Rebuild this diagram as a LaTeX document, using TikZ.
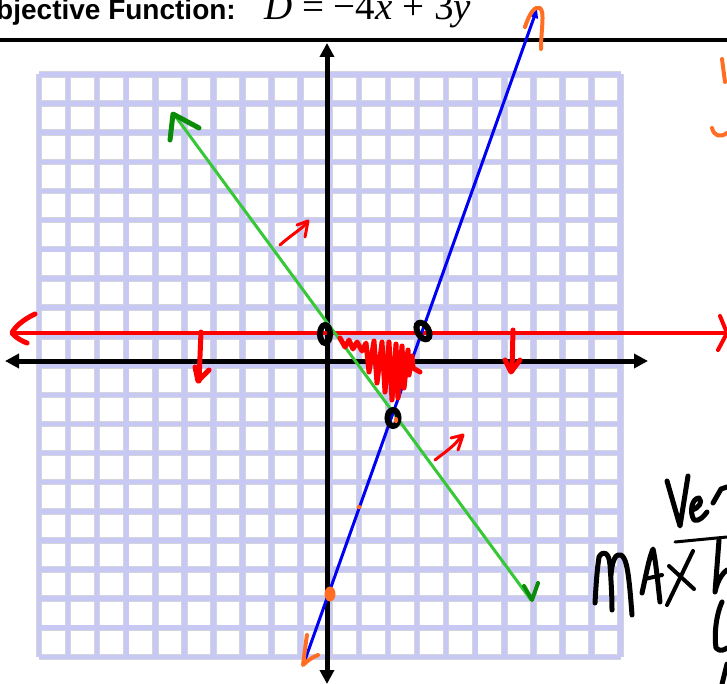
\documentclass[tikz,border=0pt]{standalone}
\usepackage{fontspec}
\setmainfont{Liberation Serif}
\newfontfamily\arialb{Liberation Sans}
\usetikzlibrary{arrows.meta}
\definecolor{gridlav}{RGB}{200,200,244}
\definecolor{gridedge}{RGB}{212,212,220}
\definecolor{hblue}{RGB}{0,0,245}
\definecolor{hgreen}{RGB}{55,200,55}
\definecolor{dgreen}{RGB}{10,140,10}
\definecolor{horange}{RGB}{255,110,35}
\definecolor{hred}{RGB}{255,0,0}
\tikzset{
  ink/.style={line width=#1, line cap=round, line join=round},
  axisline/.style={line width=5pt, black, {Triangle[length=14pt,width=14pt]}-{Triangle[length=14pt,width=14pt]}},
  ring/.style={draw=black, line width=6pt},
}
\begin{document}
\begin{tikzpicture}[x=1pt,y=-1pt]
\useasboundingbox (0,0) rectangle (727,684);
\fill[white] (0,0) rectangle (727,684);
% title
\node[anchor=base east, inner sep=0pt] (title) at (236,20) {\arialb\bfseries\fontsize{28}{28}\selectfont Objective Function:};
\node[anchor=base west, inner sep=0pt] (objf) at (264,20) {\fontsize{39}{39}\selectfont \textit{D} = −4\textit{x} + 3\textit{y}};
\coordinate (rl) at (0,40); \coordinate (rr) at (727,40);
\draw[line width=4.5pt] (rl) -- (rr);
% grid
\foreach \k in {0,...,20} {
  \draw[gridedge, line width=6.5pt] ({39+29.08*\k},74.5) -- ({39+29.08*\k},657);
  \draw[gridedge, line width=6.5pt] (39,{74.5+29.12*\k}) -- (620.6,{74.5+29.12*\k});
}
\foreach \k in {0,...,20} {
  \draw[gridlav, line width=4.6pt] ({39+29.08*\k},74.5) -- ({39+29.08*\k},657);
  \draw[gridlav, line width=4.6pt] (39,{74.5+29.12*\k}) -- (620.6,{74.5+29.12*\k});
}
% axes
\coordinate (yT) at (327,43); \coordinate (yB) at (327,684);
\coordinate (xL) at (5,361); \coordinate (xR) at (648,361);
\draw[axisline] (yB) -- (yT);
\draw[axisline] (xL) -- (xR);
% red line
\coordinate (rL) at (10,333); \coordinate (rR) at (727,333);
\draw[hred, line width=4pt] (rL) -- (rR);
\draw[hred, ink=5pt] (35,314) .. controls (22,320) and (14,328) .. (12,333) .. controls (16,338) and (22,341) .. (27,343);
\draw[hred, ink=4pt] (720,316) -- (727,333) -- (718,350);
% green line
\coordinate (gT) at (173,113); \coordinate (gB) at (531,600);
\draw[hgreen, line width=3pt] (gT) -- (gB);
\draw[dgreen, ink=5pt] (170,140) -- (173,114) -- (199,128);
\draw[dgreen, ink=4pt] (524,586) -- (532,600) -- (538,583);
% blue line
\coordinate (bB) at (305,660); \coordinate (bT) at (537,9);
\draw[hblue, line width=3pt, -{Triangle[length=9pt,width=8pt]}] (bB) -- (bT);
% orange marks
\draw[horange, ink=4pt] (525,27) .. controls (530,12) and (535,6) .. (540,8) .. controls (545,12) and (541,30) .. (541,49);
\draw[horange, ink=4pt] (307,635) .. controls (305,648) and (304,658) .. (303,665) .. controls (308,660) and (313,657) .. (318,655);
\fill[horange] (330,594) ellipse (5.5 and 7.5);
\fill[horange] (359,507) ellipse (2.5 and 2);
\draw[horange, ink=4pt] (722,59) -- (725,82);
\draw[horange, ink=4pt] (712,128) .. controls (714,136) and (720,138) .. (727,133);
% red scribble
\draw[hred, ink=5pt] (340,338) -- (345,347) -- (349,340) -- (353,349) -- (357,342) -- (362,351)
  -- (366,343) -- (369,372) -- (374,341) -- (377,383) -- (382,342) -- (385,392) -- (389,342)
  -- (392,400) -- (396,344) -- (398,398) -- (402,346) -- (404,388) -- (408,350)
  -- (409,375) -- (412,356) -- (413,368) -- (420,372);
% red small arrows
\draw[hred, ink=3pt] (280,245) .. controls (290,236) and (300,230) .. (307,223);
\draw[hred, ink=3pt] (297,225) -- (308,221) -- (305,237);
\draw[hred, ink=3pt] (435,460) .. controls (445,452) and (455,446) .. (462,435);
\draw[hred, ink=3pt] (451,438) -- (463,435) -- (458,450);
% red down arrows
\draw[hred, ink=5pt] (201,332) -- (199,381);
\draw[hred, ink=5pt] (195,367) -- (198,381) -- (209,370);
\draw[hred, ink=5pt] (513,330) -- (512,371);
\draw[hred, ink=5pt] (505,360) -- (511,372) -- (520,360);
% circles at vertices
\coordinate (V1) at (325,334); \coordinate (V2) at (423,331); \coordinate (V3) at (393,418);
\draw[ring] (V1) ellipse (5 and 9);
\draw[ring, rotate around={30:(V2)}] (V2) ellipse (5.5 and 9);
\draw[ring] (V3) ellipse (5.5 and 8);
\fill[horange] (396,420) ellipse (2.2 and 3.2);
% handwriting
\begin{scope}[black]
\draw[ink=5pt] (667,481) -- (680,526) -- (688,476);
\draw[ink=5pt] (692,510) .. controls (699,508) and (703,502) .. (699,498) .. controls (692,498) and (689,512) .. (694,520) .. controls (699,522) and (704,516) .. (707,512);
\draw[ink=5pt] (713,503) -- (721,489) -- (727,487);
\draw[ink=3pt] (675,542) -- (727,537);
\draw[ink=5pt] (595,603) .. controls (596,585) and (597,570) .. (599,557) .. controls (603,550) and (609,552) .. (610,565) .. controls (611,580) and (612,595) .. (612,610);
\draw[ink=5pt] (611,575) .. controls (612,560) and (616,553) .. (621,555) .. controls (627,558) and (629,575) .. (632,615);
\draw[ink=5pt] (642,593) .. controls (646,575) and (649,558) .. (653,549) .. controls (656,562) and (658,585) .. (660,602);
\draw[ink=4pt] (645,579) -- (662,575);
\draw[ink=4pt] (667,605) -- (693,551);
\draw[ink=4pt] (669,566) -- (694,589);
\draw[ink=5pt] (719,540) -- (715,592) .. controls (718,578) and (724,572) .. (727,570);
\draw[ink=5pt] (722,602) .. controls (716,615) and (714,635) .. (716,648) .. controls (720,652) and (724,650) .. (727,648);
\draw[ink=5pt] (727,664) -- (722,684);
\end{scope}
\end{tikzpicture}
\end{document}
